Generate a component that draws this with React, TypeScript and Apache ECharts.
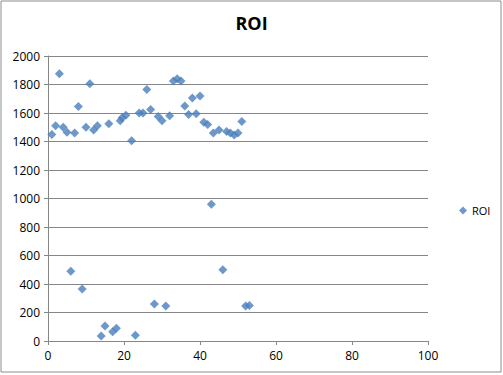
import React, { useEffect, useRef } from "react";
import * as echarts from "echarts";

const xValues: number[] = [
  1, 2, 3, 4, 5, 7, 8, 10, 11, 12, 13, 16, 19, 19.5, 20.5, 22, 24, 25, 26, 27,
  29, 30, 32, 33, 34, 35, 36, 37, 38, 39, 40, 41, 42, 43.5, 45, 47, 48, 49, 50, 51,
  6, 9, 14, 15, 17, 18, 23, 28, 31, 43, 46, 52, 53,
];
const yValues: number[] = [
  1450, 1510, 1875, 1500, 1465, 1460, 1645, 1500, 1805, 1480, 1510, 1525, 1545, 1566, 1585, 1405, 1600, 1600, 1765, 1625,
  1575, 1545, 1580, 1825, 1840, 1825, 1650, 1590, 1705, 1595, 1720, 1535, 1520, 1460, 1480, 1470, 1460, 1445, 1460, 1540,
  490, 365, 35, 105, 65, 90, 40, 260, 245, 960, 500, 245, 250,
];
const seriesName = "ROI";
const titleText = "ROI";

export default function App() {
  const ref = useRef<HTMLDivElement>(null);
  useEffect(() => {
    document.body.style.margin = "0";
    if (!ref.current) return;
    const chart = echarts.init(ref.current, undefined, { renderer: "svg" });
    const font = "'Open Sans', 'Liberation Sans', sans-serif";
    chart.setOption({
      animation: false,
      backgroundColor: "#ffffff",
      graphic: [
        {
          type: "rect",
          shape: { x: 1, y: 1, width: 500, height: 371 },
          style: { fill: "none", stroke: "#8c8c8c", lineWidth: 1 },
          silent: true,
        },
      ],
      title: {
        text: titleText,
        left: "center",
        top: 9,
        textStyle: { fontFamily: font, fontSize: 18, fontWeight: "bold", color: "#000" },
      },
      legend: {
        data: [{ name: seriesName, icon: "diamond" }],
        left: 454,
        top: 200,
        itemWidth: 8,
        itemHeight: 8,
        itemGap: 4,
        textStyle: { fontFamily: font, fontSize: 11, color: "#000" },
      },
      grid: { left: 48, right: 75, top: 56, bottom: 34, containLabel: false },
      xAxis: {
        type: "value",
        min: 0,
        max: 100,
        interval: 20,
        axisLine: { show: true, lineStyle: { color: "#868686" } },
        axisTick: { show: true, inside: false, length: 4, lineStyle: { color: "#868686" } },
        splitLine: { show: false },
        axisLabel: { fontFamily: font, fontSize: 12, color: "#000", margin: 8, formatter: (v: number) => String(v) },
      },
      yAxis: {
        type: "value",
        min: 0,
        max: 2000,
        interval: 200,
        axisLine: { show: true, lineStyle: { color: "#868686" } },
        axisTick: { show: true, inside: false, length: 4, lineStyle: { color: "#868686" } },
        splitLine: { show: true, lineStyle: { color: "#868686", width: 1 } },
        axisLabel: { fontFamily: font, fontSize: 12, color: "#000", margin: 8, formatter: (v: number) => String(v) },
      },
      series: [
        {
          name: seriesName,
          type: "scatter",
          symbol: "diamond",
          symbolSize: 9,
          itemStyle: { color: "#4a7ebb" },
          data: xValues.map((x, i) => [x, yValues[i]]),
        },
      ],
    });
    return () => chart.dispose();
  }, []);
  return <div ref={ref} style={{ width: 503, height: 375 }} />;
}
